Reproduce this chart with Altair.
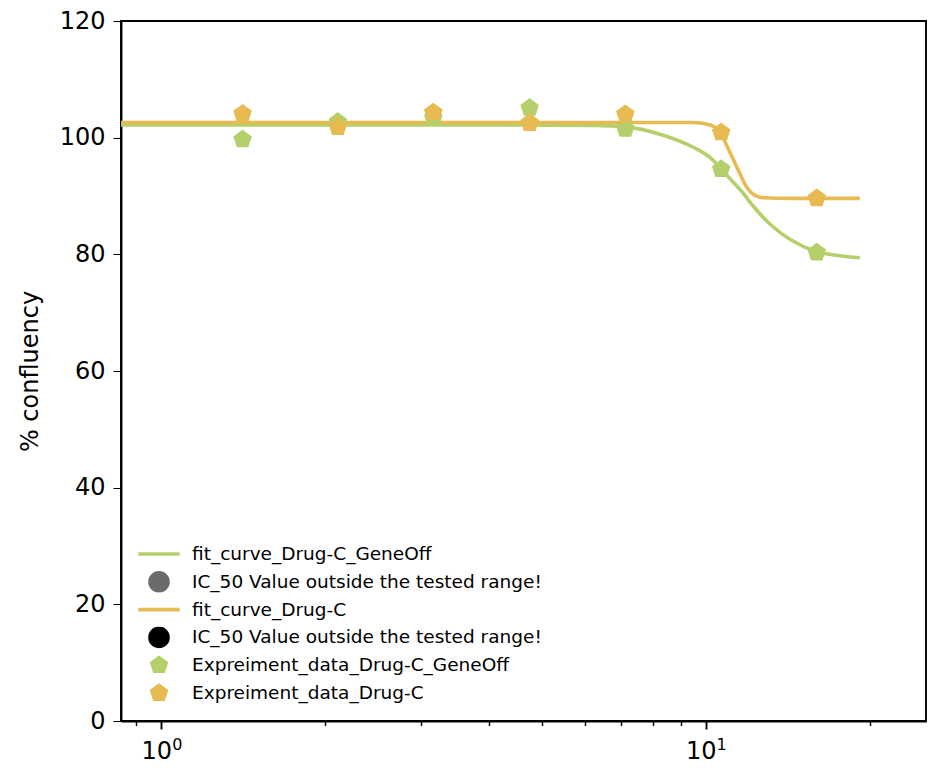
import altair as alt
import pandas as pd

# ---- data ----
doses = [1.41, 2.11, 3.16, 4.75, 7.12, 10.68, 16.0]
conf_geneoff = [99.7, 102.7, 103.4, 105.1, 101.5, 94.6, 80.3]
conf_drugc = [104.1, 101.8, 104.3, 102.5, 104.0, 100.9, 89.6]

fit_geneoff_x = [0.843, 4.11, 6.24, 7.07, 8.24, 9.47, 10.16, 10.64, 11.1, 11.67, 12.17, 13.23, 14.38, 15.83, 17.48, 19.2]
fit_geneoff_y = [102.2, 102.2, 102.1, 101.9, 100.6, 98.4, 96.7, 94.8, 92.9, 90.7, 88.5, 84.9, 82.4, 80.6, 79.8, 79.4]
fit_drugc_x = [0.843, 6.24, 9.08, 9.47, 10.16, 10.59, 11.04, 11.51, 11.92, 12.27, 12.8, 14.38, 19.2]
fit_drugc_y = [102.6, 102.6, 102.6, 102.6, 102.2, 101.1, 97.8, 94.2, 91.4, 90.2, 89.7, 89.6, 89.6]

legend_keys = ["fit_curve_Drug-C_GeneOff", "ic50_geneoff", "fit_curve_Drug-C", "ic50_drugc",
               "Expreiment_data_Drug-C_GeneOff", "Expreiment_data_Drug-C"]
legend_colors = ["#b5cf6b", "#6b6b6b", "#e7ba52", "#000000", "#b5cf6b", "#e7ba52"]
ic50_text = "IC_50 Value outside the tested range!"

y_ticks = [0, 20, 40, 60, 80, 100, 120]
x_ticks = [0.9, 1, 2, 3, 4, 5, 6, 7, 8, 9, 10, 20]
x_major = [1, 10]
x_exponents = ["0", "1"]

LINE = "M-2.3,0L2.3,0"
PENT = "M0,-0.841L0.8,-0.26L0.494,0.68L-0.494,0.68L-0.8,-0.26Z"
legend_shapes = [LINE, "circle", LINE, "circle", PENT, PENT]

# ---- tables ----
fit_g = pd.DataFrame({"dose": fit_geneoff_x, "conf": fit_geneoff_y})
fit_d = pd.DataFrame({"dose": fit_drugc_x, "conf": fit_drugc_y})
pts = pd.concat([
    pd.DataFrame({"dose": doses, "conf": conf_geneoff, "series": legend_keys[4]}),
    pd.DataFrame({"dose": doses, "conf": conf_drugc, "series": legend_keys[5]}),
], ignore_index=True)
exp_df = pd.DataFrame({"dose": x_major, "conf": [0, 0], "t": x_exponents})

xscale = alt.Scale(type="log", domain=[0.843, 25.4], nice=False)
yscale = alt.Scale(domain=[0, 120], nice=False)

major_test = "datum.value == 1 || datum.value == 10"
xaxis = alt.Axis(
    values=x_ticks, title=None, grid=False, labelOverlap=False, labelFlush=False,
    labelExpr=f"({major_test}) ? '10' : ''", labelOffset=-5,
    tickSize={"condition": {"test": major_test, "value": 8}, "value": 4.6},
    tickWidth={"condition": {"test": major_test, "value": 1.9}, "value": 1.4},
    labelPadding=10,
)
yaxis = alt.Axis(values=y_ticks, title="% confluency", grid=False, tickSize=8, labelPadding=8,
                 titlePadding=17)

X = alt.X("dose:Q", scale=xscale, axis=xaxis)
Y = alt.Y("conf:Q", scale=yscale, axis=yaxis)

line_g = alt.Chart(fit_g).mark_line(color=legend_colors[0], strokeWidth=3.6,
                                    interpolate="monotone").encode(x=X, y=Y)
line_d = alt.Chart(fit_d).mark_line(color=legend_colors[2], strokeWidth=3.6,
                                    interpolate="monotone").encode(x=X, y=Y)

leg = alt.Legend(
    title=None, orient="none", legendX=14, legendY=522,
    symbolSize=324, symbolStrokeWidth=3.6, symbolOffset=13, symbolOpacity=1,
    labelOffset=22, labelFont="DejaVu Sans", labelFontSize=18.5, labelColor="black",
    labelLimit=800, rowPadding=5.8, clipHeight=22, padding=0,
    labelExpr=f"(datum.label == 'ic50_geneoff' || datum.label == 'ic50_drugc') ? '{ic50_text}' : datum.label",
)
sc_col = alt.Scale(domain=legend_keys, range=legend_colors)
sc_shape = alt.Scale(domain=legend_keys, range=legend_shapes)

points = alt.Chart(pts).mark_point(filled=True, size=324, strokeWidth=3.6, opacity=1).encode(
    x=X, y=Y,
    fill=alt.Fill("series:N", scale=sc_col, legend=leg),
    stroke=alt.Stroke("series:N", scale=sc_col, legend=leg),
    shape=alt.Shape("series:N", scale=sc_shape, legend=leg),
    order=alt.Order("series:N", sort="descending"),
)

exps = alt.Chart(exp_df).mark_text(
    font="DejaVu Sans", fontSize=16, color="black", dx=16, dy=24, baseline="middle", align="center"
).encode(x=X, y=Y, text="t:N")

chart = alt.layer(line_g, line_d, points, exps).properties(
    width=805, height=700,
    autosize=alt.AutoSizeParams(type="none"),
    padding={"left": 113, "top": 13, "right": 1, "bottom": 42},
).configure_view(stroke="black", strokeWidth=1.9).configure_axis(
    domainColor="black", domainWidth=1.9, tickColor="black",
    labelFont="DejaVu Sans", labelFontSize=24, labelColor="black",
    titleFont="DejaVu Sans", titleFontSize=24, titleFontWeight="normal", titleColor="black",
)

chart.save("out.html", embed_options={"renderer": "svg", "actions": False})
